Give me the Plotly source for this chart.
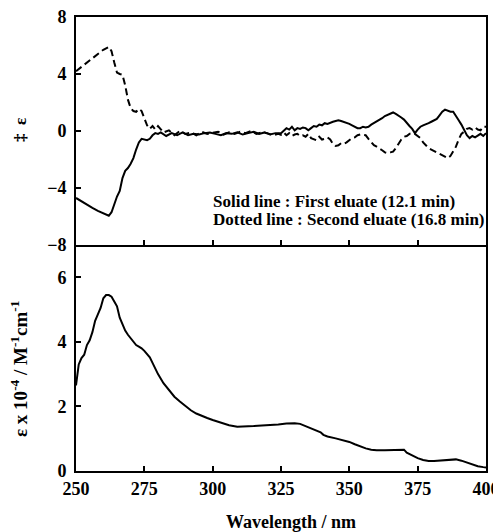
import plotly.graph_objects as go

# ---------------- data ----------------
wl_first = [250, 252, 254, 256, 258, 260, 262, 263, 264, 265, 266, 267, 268, 269, 270,
            271, 272, 273, 274, 275, 276, 277, 278, 279, 280,
            281, 283, 285, 287, 289, 291, 293, 295, 297, 299, 301, 303, 305, 307, 309,
            311, 313, 315, 317, 319, 321, 323,
            325, 326, 327, 328, 329, 330, 331, 332, 333, 334, 335, 336, 337, 338, 339,
            340, 341, 342, 343, 344, 345, 346, 347, 348, 349, 350, 351, 352, 353, 354,
            355, 356, 357, 358, 359, 360, 361, 362, 363, 364, 365, 366, 367, 368, 369,
            370, 371, 372, 373, 374, 375, 376, 377, 378, 379, 380, 381, 382, 383, 384,
            385, 386, 387, 388, 389, 390, 391, 392, 393, 394, 395, 396, 397, 398, 399, 400]
cd_first = [-4.7, -4.95, -5.2, -5.4, -5.6, -5.8, -5.95, -5.7, -5.1, -4.6, -4.2, -3.3, -2.8, -2.6, -2.3,
            -1.9, -1.3, -0.8, -0.55, -0.6, -0.65, -0.55, -0.3, -0.15, -0.2,
            -0.1, -0.35, -0.15, -0.3, -0.1, -0.3, -0.2, -0.25, -0.15, -0.1, -0.2, -0.3, -0.15, -0.2, -0.1,
            -0.25, -0.15, -0.05, -0.2, -0.1, -0.25, -0.15,
            -0.15, 0.0, 0.2, 0.1, 0.3, 0.05, 0.2, 0.15, 0.25, 0.2, 0.05, 0.2, 0.35, 0.3, 0.45,
            0.4, 0.55, 0.5, 0.6, 0.65, 0.7, 0.75, 0.7, 0.65, 0.6, 0.5, 0.4, 0.3, 0.2, 0.2,
            0.3, 0.25, 0.3, 0.45, 0.55, 0.7, 0.8, 0.9, 1.05, 1.15, 1.25, 1.3, 1.2, 1.1, 0.95,
            0.8, 0.55, 0.35, 0.15, -0.15, 0.1, 0.3, 0.4, 0.45, 0.55, 0.65, 0.75, 0.85, 1.1, 1.35,
            1.5, 1.4, 1.35, 1.35, 1.0, 0.75, 0.45, 0.1, -0.3, -0.5, -0.35, -0.45, -0.3, -0.2, -0.35, -0.15]

wl_second = [250, 252, 254, 256, 258, 260, 262, 263, 264, 265, 266, 267, 268, 269, 270,
             271, 272, 273, 274, 275, 276, 277, 278, 279, 280,
             282, 284, 286, 288, 290, 292, 294, 296, 298, 300, 302, 304, 306, 308, 310,
             312, 314, 316, 318, 320, 322, 324,
             325, 326, 327, 328, 329, 330, 331, 332, 333, 334, 335, 336, 337, 338, 339,
             340, 341, 342, 343, 344, 345, 346, 347, 348, 349, 350, 351, 352, 353, 354,
             355, 356, 357, 358, 359, 360, 361, 362, 363, 364, 365, 366, 367, 368, 369,
             370, 371, 372, 373, 374, 375, 376, 377, 378, 379, 380, 381, 382, 383, 384,
             385, 386, 387, 388, 389, 390, 391, 392, 393, 394, 395, 396, 397, 398, 399, 400]
cd_second = [4.2, 4.5, 4.8, 5.1, 5.4, 5.7, 5.9, 5.6, 4.8, 4.1, 4.0, 3.95, 3.2, 2.2, 1.6,
             1.4, 1.35, 1.55, 1.4, 0.9, 0.4, 0.15, 0.35, 0.1, 0.35,
             -0.1, 0.05, -0.3, 0.0, -0.2, -0.1, -0.3, -0.05, -0.2, -0.15, -0.05, -0.25, -0.1, -0.2, -0.05,
             -0.15, 0.0, -0.2, -0.1, -0.15, -0.3, -0.2,
             -0.27, -0.1, -0.3, -0.15, -0.35, -0.25, -0.2, -0.35, -0.3, -0.4, -0.2, -0.5, -0.55, -0.65, -0.4,
             -0.6, -0.55, -0.45, -0.6, -0.9, -1.05, -1.0, -0.85, -0.9, -0.8, -0.65, -0.5, -0.45, -0.3, -0.25,
             -0.25, -0.3, -0.55, -0.8, -1.0, -1.1, -1.2, -1.35, -1.5, -1.55, -1.5, -1.45, -1.2, -0.9, -0.6,
             -0.4, -0.35, -0.2, -0.15, -0.2, -0.35, -0.5, -0.8, -1.0, -1.2, -1.3, -1.4, -1.5, -1.55, -1.65,
             -1.8, -1.9, -1.75, -1.4, -1.1, -0.6, -0.2, -0.05, 0.15, 0.2, 0.1, 0.25, 0.1, 0.05, 0.3, 0.3]

wl_abs = [250, 251, 252, 253, 254, 255, 256, 257, 258, 259, 260, 261, 262, 263, 264, 265,
          266, 267, 268, 269, 270, 271, 272, 273, 274, 275, 276, 277, 278, 279, 280,
          282, 284, 286, 288, 290, 292, 294, 296, 298, 300, 303, 306, 309, 312, 315, 318,
          321, 324, 327, 330, 332, 334, 336, 338, 339.5, 340.5, 342, 345, 348, 350, 352,
          354, 356, 358, 360, 363, 366, 369, 370, 371, 373, 375, 377, 379, 381, 384, 387,
          389, 391, 393, 395, 397, 399, 400]
eps_abs = [2.65, 3.3, 3.5, 3.6, 3.9, 4.05, 4.3, 4.65, 4.85, 5.05, 5.35, 5.45, 5.45, 5.4, 5.25, 5.1,
           4.75, 4.55, 4.35, 4.22, 4.1, 3.98, 3.9, 3.85, 3.8, 3.72, 3.62, 3.52, 3.35, 3.15, 3.0,
           2.72, 2.5, 2.3, 2.15, 2.0, 1.88, 1.78, 1.7, 1.64, 1.58, 1.5, 1.42, 1.37, 1.37, 1.39, 1.41,
           1.42, 1.44, 1.47, 1.48, 1.46, 1.39, 1.32, 1.25, 1.2, 1.12, 1.07, 1.01, 0.95, 0.9, 0.83,
           0.76, 0.7, 0.66, 0.64, 0.64, 0.65, 0.67, 0.66, 0.57, 0.48, 0.4, 0.34, 0.31, 0.31, 0.33, 0.36,
           0.36, 0.32, 0.26, 0.2, 0.15, 0.12, 0.11]

x_ticks = [250, 275, 300, 325, 350, 375, 400]
cd_ticks = [-8, -4, 0, 4, 8]
abs_ticks = [0, 2, 4, 6]

legend_lines = ["Solid line : First eluate (12.1 min)",
                "Dotted line : Second eluate (16.8 min)"]

# ---------------- figure ----------------
FONT = "Liberation Serif"
fig = go.Figure()
fig.add_trace(go.Scatter(x=wl_first, y=cd_first, mode="lines",
                         line=dict(color="black", width=2), xaxis="x", yaxis="y",
                         showlegend=False))
fig.add_trace(go.Scatter(x=wl_second, y=cd_second, mode="lines",
                         line=dict(color="black", width=2, dash="7px,4px"),
                         xaxis="x", yaxis="y", showlegend=False))
fig.add_trace(go.Scatter(x=wl_abs, y=eps_abs, mode="lines",
                         line=dict(color="black", width=2), xaxis="x2", yaxis="y2",
                         showlegend=False))

split = 0.4978
axis_common = dict(showline=True, linecolor="black", linewidth=2,
                   ticks="inside", ticklen=5, tickwidth=1.5, tickcolor="black",
                   showgrid=False, zeroline=False, automargin=False,
                   ticklabeloverflow="allow",
                   tickfont=dict(family=FONT, size=18, color="black", weight="bold"))

fig.update_layout(
    width=493, height=524,
    margin=dict(l=68, r=15, t=9, b=61, pad=0),
    paper_bgcolor="white", plot_bgcolor="white",
    xaxis=dict(domain=[0, 1], anchor="y", range=[250, 400], tickvals=x_ticks,
               showticklabels=False, mirror=True, **axis_common),
    yaxis=dict(domain=[split, 1], anchor="x", range=[-8.0005, 8.0005], tickvals=cd_ticks,
               ticklabelstandoff=4, mirror=True, **axis_common),
    xaxis2=dict(domain=[0, 1], anchor="y2", range=[250, 400], tickvals=x_ticks,
                mirror=False, **axis_common),
    yaxis2=dict(domain=[0, split], anchor="x2", range=[0, 7], tickvals=abs_ticks,
                ticklabelstandoff=4, mirror=True, **axis_common),
    # extra top-side axis used only to draw the upper panel's top border
    xaxis3=dict(overlaying="x", side="top", anchor="y", range=[250, 400],
                showline=True, linecolor="black", linewidth=2, ticks="",
                showticklabels=False, showgrid=False, zeroline=False, automargin=False),
)

ann_font = dict(family=FONT, size=17, color="black")
fig.add_annotation(text="<b>" + legend_lines[0] + "</b>", xref="paper", yref="paper",
                   x=0.329, y=0.5947, xanchor="left", yanchor="middle",
                   showarrow=False, font=ann_font)
fig.add_annotation(text="<b>" + legend_lines[1] + "</b>", xref="paper", yref="paper",
                   x=0.329, y=0.555, xanchor="left", yanchor="middle",
                   showarrow=False, font=ann_font)
fig.add_annotation(text="<b>Wavelength / nm</b>", xref="paper", yref="paper",
                   x=0.5256, y=-0.113, xanchor="center", yanchor="middle",
                   showarrow=False, font=dict(family=FONT, size=18, color="black"))
fig.add_annotation(text="<b>ε x 10<sup>-4</sup> / M<sup>-1</sup>cm<sup>-1</sup></b>",
                   xref="paper", yref="paper", x=-0.139, y=0.2247,
                   xanchor="center", yanchor="middle", textangle=-90,
                   showarrow=False, font=dict(family=FONT, size=19, color="black"))
fig.add_annotation(text="<b>‡  ε</b>", xref="paper", yref="paper", x=-0.137, y=0.751,
                   xanchor="center", yanchor="middle", textangle=-90,
                   showarrow=False, font=dict(family=FONT, size=17, color="black"))

fig.write_html("out.html", config={"displayModeBar": False})
